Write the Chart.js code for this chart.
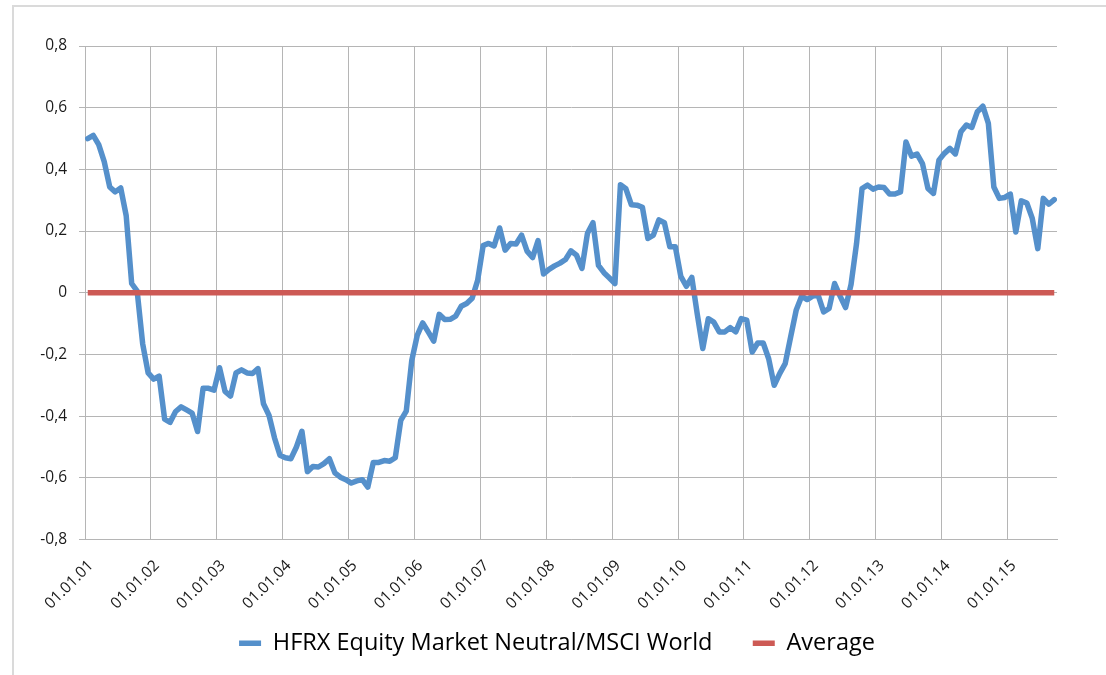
<!DOCTYPE html>
<html>
<head>
<meta charset="utf-8">
<script src="https://cdn.jsdelivr.net/npm/chart.js@4.4.1/dist/chart.umd.min.js"></script>
<style>
  html, body { margin: 0; padding: 0; background: #fff; }
  #wrap { position: relative; width: 1106px; height: 675px; overflow: hidden; }
  #frame { position: absolute; left: 12px; top: 5px; width: 1200px; height: 800px;
           border-left: 2px solid #dadada; border-top: 2px solid #dadada; }
  #chart { position: absolute; left: 0; top: 0; }
</style>
</head>
<body>
<div id="wrap">
  <div id="frame"></div>
  <canvas id="chart" width="1106" height="675"></canvas>
</div>
<script>
// year tick labels (one every 12 months, starting Jan 2001)
const yearLabels = ['01.01.01', '01.01.02', '01.01.03', '01.01.04', '01.01.05',
  '01.01.06', '01.01.07', '01.01.08', '01.01.09', '01.01.10', '01.01.11',
  '01.01.12', '01.01.13', '01.01.14', '01.01.15'];

// monthly ratio, Jan 2001 .. Sep 2015
const ratioValues = [
  0.50, 0.51, 0.48, 0.425, 0.343, 0.327, 0.34, 0.25, 0.03, 0.005,
  -0.165, -0.26, -0.28, -0.27, -0.41, -0.42, -0.385, -0.37, -0.38, -0.39,
  -0.45, -0.31, -0.31, -0.316, -0.243, -0.32, -0.335, -0.26, -0.25, -0.26,
  -0.262, -0.246, -0.36, -0.397, -0.47, -0.527, -0.535, -0.538, -0.50, -0.449,
  -0.58, -0.563, -0.565, -0.554, -0.538, -0.584, -0.598, -0.606, -0.617, -0.61,
  -0.606, -0.63, -0.55, -0.55, -0.544, -0.546, -0.535, -0.414, -0.384, -0.22,
  -0.138, -0.098, -0.127, -0.157, -0.07, -0.087, -0.086, -0.076, -0.044, -0.035,
  -0.018, 0.04, 0.153, 0.16, 0.152, 0.21, 0.138, 0.16, 0.158, 0.187,
  0.135, 0.114, 0.169, 0.061, 0.076, 0.087, 0.096, 0.108, 0.136, 0.122,
  0.079, 0.193, 0.227, 0.089, 0.065, 0.048, 0.03, 0.35, 0.337, 0.285,
  0.284, 0.277, 0.176, 0.187, 0.236, 0.227, 0.149, 0.149, 0.053, 0.021,
  0.05, -0.07, -0.181, -0.084, -0.095, -0.127, -0.127, -0.113, -0.127, -0.084,
  -0.089, -0.192, -0.163, -0.163, -0.214, -0.30, -0.262, -0.23, -0.143, -0.057,
  -0.011, -0.022, -0.011, -0.008, -0.062, -0.051, 0.03, -0.011, -0.048, 0.027,
  0.16, 0.338, 0.349, 0.336, 0.343, 0.341, 0.32, 0.32, 0.327, 0.489,
  0.443, 0.45, 0.419, 0.338, 0.322, 0.43, 0.452, 0.468, 0.45, 0.522,
  0.544, 0.536, 0.587, 0.605, 0.549, 0.343, 0.306, 0.309, 0.32, 0.197,
  0.298, 0.291, 0.241, 0.143, 0.306, 0.287, 0.302
];

// the average of the series (flat line)
const averageValue = 0;

const seriesNames = ['HFRX Equity Market Neutral/MSCI World', 'Average'];

// points sit in the middle of each month on a month-index axis
const ratioPoints = ratioValues.map((v, i) => ({ x: i + 0.5, y: v }));
const averagePoints = ratioValues.map((v, i) => ({ x: i + 0.5, y: averageValue }));

const blue = '#5590cb';
const red = '#cd5a55';
const gridColor = '#b5b5b5';
const tickFont = { family: 'Open Sans', size: 15.5 };

new Chart(document.getElementById('chart'), {
  type: 'line',
  data: {
    datasets: [
      {
        label: seriesNames[0],
        data: ratioPoints,
        borderColor: blue,
        backgroundColor: blue,
        borderWidth: 5.5,
        borderCapStyle: 'round',
        borderJoinStyle: 'round',
        pointRadius: 0,
        tension: 0,
        order: 1
      },
      {
        label: seriesNames[1],
        data: averagePoints,
        borderColor: red,
        backgroundColor: red,
        borderWidth: 5.5,
        borderCapStyle: 'butt',
        pointRadius: 0,
        tension: 0,
        order: 0
      }
    ]
  },
  options: {
    responsive: false,
    animation: false,
    layout: { padding: { left: 8, top: 46, right: 0, bottom: 10 } },
    plugins: {
      tooltip: { enabled: false },
      legend: {
        position: 'bottom',
        labels: {
          sort: (a, b) => a.datasetIndex - b.datasetIndex,
          usePointStyle: true,
          pointStyle: 'line',
          pointStyleWidth: 22,
          boxHeight: 5,
          padding: 22,
          color: '#000',
          font: { family: 'Open Sans', size: 23.5 },
          // a little extra room after the first entry, like the original legend
          generateLabels: chart => {
            const items = Chart.defaults.plugins.legend.labels.generateLabels(chart);
            items.forEach(it => { if (it.datasetIndex === 0) it.text = it.text + '\u00a0\u00a0\u00a0'; });
            return items;
          }
        }
      }
    },
    scales: {
      x: {
        type: 'linear',
        min: 0,
        max: 177,
        afterFit: s => { s.height = 70; },
        border: { color: gridColor, width: 1 },
        grid: { color: gridColor, lineWidth: 1, drawTicks: false },
        ticks: {
          stepSize: 12,
          includeBounds: false,
          autoSkip: false,
          minRotation: 45,
          maxRotation: 45,
          padding: 17,
          labelOffset: 6,
          color: '#1a1a1a',
          font: tickFont,
          callback: v => yearLabels[Math.round(v / 12)]
        }
      },
      y: {
        min: -0.8,
        max: 0.8,
        afterFit: s => { s.width = 77; },
        border: { color: gridColor, width: 1 },
        grid: { color: gridColor, lineWidth: 1, tickLength: 6 },
        ticks: {
          stepSize: 0.2,
          padding: 12,
          color: '#1a1a1a',
          font: tickFont,
          callback: v => {
            const r = Math.round(v * 10) / 10;
            return r === 0 ? '0' : r.toFixed(1).replace('.', ',');
          }
        }
      },
      // empty strip on the right, keeps the plot clear of the frame edge
      yRight: {
        position: 'right',
        display: true,
        afterFit: s => { s.width = 49; },
        grid: { display: false },
        border: { display: false },
        ticks: { display: false }
      }
    }
  }
});
</script>
</body>
</html>
